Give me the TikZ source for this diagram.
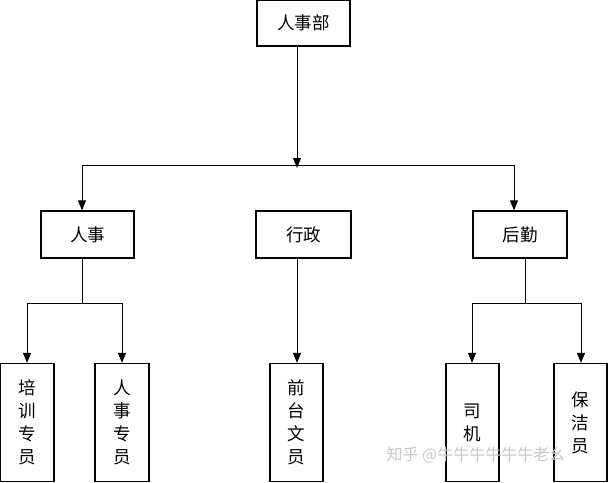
\documentclass[tikz,border=0pt]{standalone}
\usepackage{fontspec}
\setmainfont{Noto Sans CJK SC}
\usetikzlibrary{arrows.meta}
\begin{document}
\begin{tikzpicture}[x=1pt,y=-1pt,
  box/.style={draw,line width=1.3pt,inner sep=0pt,font=\fontsize{17.5}{20}\selectfont},
  vbox/.style={box,align=center,font=\fontsize{17.5}{23}\selectfont},
  arr/.style={line width=1pt,-{Triangle[length=10pt,width=8pt]}},
  ln/.style={line width=1pt}]
\useasboundingbox (0,0) rectangle (609,482);
\node[box,minimum width=93pt,minimum height=46pt] (top) at (303.5,23) {人事部};
\node[box,minimum width=93pt,minimum height=47pt] (hr) at (87.5,234.5) {人事};
\node[box,minimum width=95pt,minimum height=47pt] (adm) at (303.5,234.5) {行政};
\node[box,minimum width=94pt,minimum height=47pt] (log) at (520,234.5) {后勤};
\node[vbox,minimum width=54pt,minimum height=118pt] (a) at (27,422.5) {培\\训\\专\\员};
\node[vbox,minimum width=54pt,minimum height=118pt] (b) at (122,422.5) {人\\事\\专\\员};
\node[vbox,minimum width=53pt,minimum height=118pt] (c) at (296.5,422.5) {前\\台\\文\\员};
\node[vbox,minimum width=53pt,minimum height=118pt] (d) at (472.5,422.5) {司\\机};
\node[vbox,minimum width=53pt,minimum height=118pt] (e) at (580.5,422.5) {保\\洁\\员};
\coordinate (j0) at (297,165);
\coordinate (l0) at (82,165);
\coordinate (r0) at (514,165);
\coordinate (j1) at (82,303);
\coordinate (j2) at (525,303);
\coordinate (l1) at (27,303);
\coordinate (r1) at (122,303);
\coordinate (l2) at (472,303);
\coordinate (r2) at (581,303);
\draw[arr] (top.south -| j0) -- ([yshift=-3pt]j0);
\draw[ln] (l0) -- (r0);
\draw[arr] (l0) -- (l0 |- hr.north);
\draw[arr] (r0) -- (r0 |- log.north);
\draw[ln] (hr.south -| j1) -- (j1);
\draw[ln] (l1) -- (r1);
\draw[arr] (l1) -- (l1 |- a.north);
\draw[arr] (r1) -- (r1 |- b.north);
\draw[arr] (adm.south -| j0) -- (j0 |- c.north);
\draw[ln] (log.south -| j2) -- (j2);
\draw[ln] (l2) -- (r2);
\draw[arr] (l2) -- (l2 |- d.north);
\draw[arr] (r2) -- (r2 |- e.north);
\node[text=black!22,font=\fontsize{16}{18}\selectfont,anchor=west] (wm) at (383,455) {知乎 @牛牛牛牛牛牛老幺};
\end{tikzpicture}
\end{document}
